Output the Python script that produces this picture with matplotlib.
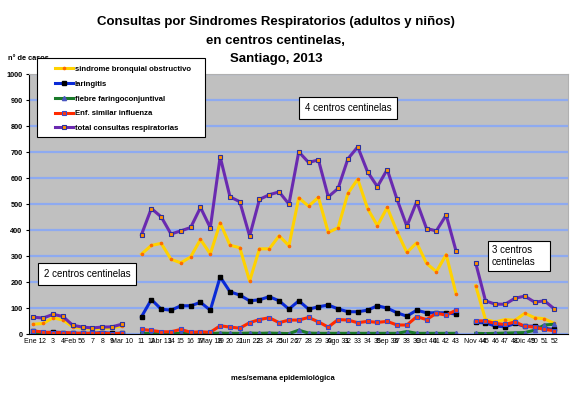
import numpy as np
import matplotlib
matplotlib.use("Agg")
import matplotlib.pyplot as plt
from matplotlib.patches import Rectangle

plt.rcParams['font.family'] = ['Liberation Sans', 'DejaVu Sans']

# week labels, '' = empty category between groups of sentinel centres
week_labels = ["Ene 1", "2", "3", "4", "Feb 5", "6", "7", "8", "9", "Mar 10", "",
               "11", "12", "Abr 13", "14", "15", "16", "17", "May 18", "19", "20",
               "21", "Jun 22", "23", "24", "25", "Jul 26", "27", "28", "29", "30",
               "Ago 31", "32", "33", "34", "35", "Sep 36", "37", "38", "39", "Oct 40",
               "41", "42", "43", "",
               "Nov 44", "45", "46", "47", "48", "Dic 49", "50", "51", "52"]

# values per period: weeks 1-10 (2 centres), 11-43 (4 centres), 44-52 (3 centres)
sbo_1 = [38, 41, 63, 54, 28, 22, 20, 22, 23, 32]
sbo_2 = [308, 341, 349, 288, 274, 297, 364, 308, 428, 342, 332, 204, 328, 328,
         378, 340, 524, 492, 526, 391, 409, 541, 596, 483, 417, 487, 394, 314,
         351, 272, 240, 306, 156]
sbo_3 = [186, 56, 47, 56, 53, 80, 63, 59, 41]

lar_1 = [12, 5, 8, 6, 3, 3, 3, 6, 3, 3]
lar_2 = [67, 133, 96, 92, 109, 109, 122, 92, 220, 163, 150, 128, 132, 144,
         128, 96, 128, 96, 105, 112, 97, 86, 86, 92, 109, 100, 82, 69, 92, 82,
         82, 82, 77]
lar_3 = [45, 43, 31, 28, 41, 30, 31, 22, 18]

ffc_1 = [2, 2, 1, 2, 1, 1, 1, 2, 1, 1]
ffc_2 = [3, 2, 3, 2, 3, 2, 3, 2, 4, 3, 3, 4, 3, 4, 3, 2, 15, 4, 3, 3, 3, 3,
         3, 3, 3, 3, 3, 10, 3, 3, 3, 3, 3]
ffc_3 = [3, 2, 3, 4, 5, 6, 15, 35, 38]

esi_1 = [12, 8, 5, 6, 4, 3, 3, 3, 2, 3]
esi_2 = [18, 14, 9, 9, 18, 7, 9, 7, 32, 27, 23, 44, 56, 63, 44, 54, 54, 64,
         47, 27, 56, 54, 44, 49, 45, 49, 35, 35, 67, 56, 80, 73, 92]
esi_3 = [51, 51, 41, 37, 47, 30, 27, 18, 13]

tot_1 = [65, 62, 76, 68, 34, 27, 24, 27, 28, 38]
tot_2 = [383, 483, 451, 385, 397, 410, 487, 409, 682, 528, 509, 377, 518, 536,
         547, 500, 701, 660, 670, 528, 560, 674, 720, 624, 567, 633, 518, 415,
         509, 406, 397, 458, 320]
tot_3 = [274, 128, 115, 115, 138, 146, 123, 128, 97]


def join(a, b, c):
    return np.array(a + [np.nan] + b + [np.nan] + c, dtype=float)


x = np.arange(len(week_labels))

series = [
    ("sindrome bronquial obstructivo", join(sbo_1, sbo_2, sbo_3),
     dict(color='#ffd200', marker='o', ms=1.6, mfc='#ff6a00', mec='#ff6a00')),
    ("laringitis", join(lar_1, lar_2, lar_3),
     dict(color='#0a2ad6', marker='s', ms=2.6, mfc='black', mec='black')),
    ("fiebre faringoconjuntival", join(ffc_1, ffc_2, ffc_3),
     dict(color='#1a7a2a', marker='^', ms=3, mfc='#4a55c0', mec='#4a55c0')),
    ("Enf. similar influenza", join(esi_1, esi_2, esi_3),
     dict(color='#ff2a00', marker='s', ms=3, mfc='#ff3a10', mec='#3a4ad0', mew=0.8)),
    ("total consultas respiratorias", join(tot_1, tot_2, tot_3),
     dict(color='#6a2ab0', marker='s', ms=3, mfc='#ff9000', mec='#2a30a0', mew=0.8)),
]

fig = plt.figure(figsize=(5.76, 3.94), dpi=100)
ax = fig.add_axes([0.0512, 0.152, 0.935, 0.66])
ax.set_facecolor('#c0c0c0')

for name, vals, st in series:
    ax.plot(x, vals, lw=2.2, label=name, **st)

ax.set_ylim(0, 1000)
ax.set_xlim(-0.4, 54.4)
ax.set_yticks(range(0, 1001, 100))
ax.grid(axis='y', color='#8eaaf0', lw=1.6)
ax.set_axisbelow(True)
ax.set_xticks(x)
ax.set_xticklabels(week_labels, fontsize=5)
ax.tick_params(axis='x', length=0, pad=2.5)
ax.tick_params(axis='y', length=2, pad=3, labelsize=5.3)
for t in ax.get_yticklabels():
    t.set_fontweight('bold')
for s in ['top', 'right']:
    ax.spines[s].set_color('#b0b0b0')
ax.spines['left'].set_color('black')
ax.spines['bottom'].set_color('black')

# titles
fig.text(0.479, 1 - 22 / 394, "Consultas por Sindromes Respiratorios (adultos y niños)",
         ha='center', va='center', fontsize=9.5, fontweight='bold')
fig.text(0.479, 1 - 41 / 394, "en centros centinelas,",
         ha='center', va='center', fontsize=9.5, fontweight='bold')
fig.text(0.479, 1 - 59 / 394, "Santiago, 2013",
         ha='center', va='center', fontsize=9.5, fontweight='bold')
fig.text(8 / 576, 1 - 58 / 394, "n° de casos", ha='left', va='center',
         fontsize=5.3, fontweight='bold')
fig.text(283 / 576, 1 - 378 / 394, "mes/semana epidemiológica", ha='center',
         va='center', fontsize=5.5, fontweight='bold')

box = dict(boxstyle='square,pad=0.6', fc='white', ec='black', lw=0.8)
fig.text(87 / 576, 1 - 274 / 394, "2 centros centinelas", fontsize=7,
         ha='center', va='center', bbox=box)
fig.text(348 / 576, 1 - 108 / 394, "4 centros centinelas", fontsize=7,
         ha='center', va='center', bbox=box)
fig.text(492 / 576, 1 - 256 / 394, "3 centros     \ncentinelas", fontsize=7,
         ha='left', va='center', bbox=dict(boxstyle='square,pad=0.4', fc='white',
                                            ec='black', lw=0.8))

# legend frame drawn separately so handles sit indented as in the original
fig.patches.append(Rectangle((37 / 576, 1 - 137 / 394), 168 / 576, 79 / 394,
                             transform=fig.transFigure, fc='white', ec='black',
                             lw=0.8, zorder=4))
leg = fig.legend(loc='upper left', bbox_to_anchor=(48 / 576, 1 - 58 / 394),
                 fontsize=5.6, frameon=False, handlelength=2.3,
                 labelspacing=0.95, borderpad=0.45, handletextpad=0.2)
leg.set_zorder(5)
for t in leg.get_texts():
    t.set_fontweight('bold')

fig.savefig("out.png", dpi=100)
